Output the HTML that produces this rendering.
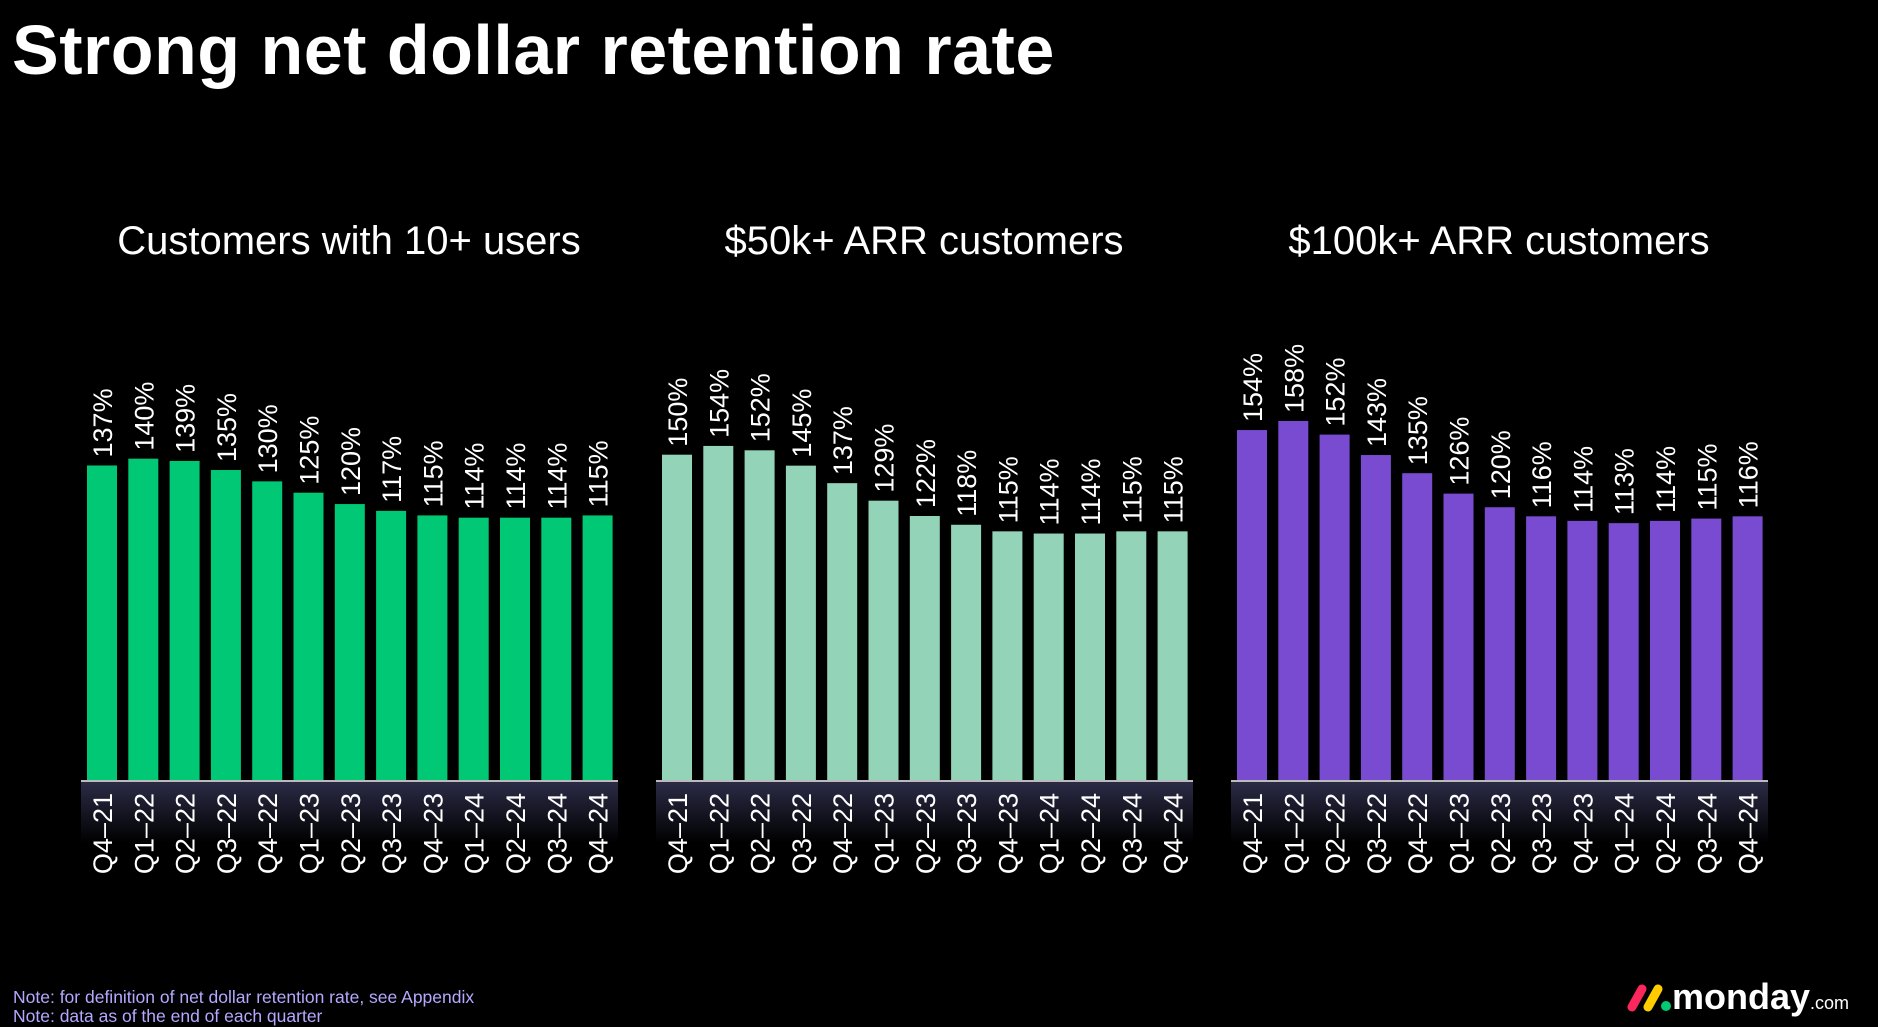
<!DOCTYPE html>
<html><head><meta charset="utf-8">
<style>
html,body{margin:0;padding:0;background:#000;}
body{width:1878px;height:1022px;overflow:hidden;position:relative;font-family:"Liberation Sans","DejaVu Sans",sans-serif;}
#title{position:absolute;left:12px;top:10px;color:#fff;font-weight:bold;font-size:70px;letter-spacing:0.5px;margin:0;}
.note{position:absolute;left:13px;color:#b4a8ff;font-size:17.5px;}
#logo{position:absolute;left:1624px;top:976px;color:#fff;font-weight:bold;font-size:36px;}
</style></head>
<body>
<h1 id="title">Strong net dollar retention rate</h1>
<svg id="chart" width="1878" height="1022" style="position:absolute;left:0;top:0">
<defs><linearGradient id="band" x1="0" y1="0" x2="0" y2="1"><stop offset="0" stop-color="#2c2c48"/><stop offset="1" stop-color="#000"/></linearGradient></defs>
</svg>
<div class="note" style="top:987px">Note: for definition of net dollar retention rate, see Appendix</div>
<div class="note" style="top:1006px">Note: data as of the end of each quarter</div>
<div id="logo"><svg width="48" height="34" style="vertical-align:-4px"><line x1="8" y1="28" x2="18" y2="10" stroke="#fb275d" stroke-width="9" stroke-linecap="round"/><line x1="24" y1="28" x2="34" y2="10" stroke="#ffcc00" stroke-width="9" stroke-linecap="round"/><circle cx="42" cy="27" r="5" fill="#00ca72"/></svg>monday<span style="font-size:18px;font-weight:normal">.com</span></div>
<script>
const categories = ["Q4-21","Q1-22","Q2-22","Q3-22","Q4-22","Q1-23","Q2-23","Q3-23","Q4-23","Q1-24","Q2-24","Q3-24","Q4-24"];
const titles = ["Customers with 10+ users","$50k+ ARR customers","$100k+ ARR customers"];
const users10 = [137,140,139,135,130,125,120,117,115,114,114,114,115];
const arr50k = [150,154,152,145,137,129,122,118,115,114,114,115,115];
const arr100k = [154,158,152,143,135,126,120,116,114,113,114,115,116];
const series = [users10, arr50k, arr100k];
const colors = ["#00c875","#93d4b9","#784bd1"];
const bandLeft = [81,656,1231];
const scaleK = [2.27,2.19,2.27];
const scaleV0 = [-2,1,-0.6];
const NS="http://www.w3.org/2000/svg";
const svg=document.getElementById('chart');
const baseY=781, pitch=41.3, bw=30;
function mk(t,a){const e=document.createElementNS(NS,t);for(const k in a)e.setAttribute(k,a[k]);return e;}
series.forEach((vals,ci)=>{
  const L=bandLeft[ci];
  const g=mk('g',{});
  
  
  svg.appendChild(g);
  const y=v=>baseY-scaleK[ci]*(v-scaleV0[ci]);
  const x=i=>L+21+i*pitch;
  const t=mk('text',{x:L+268,y:254,fill:'#fff','font-size':40,'text-anchor':'middle'});
  t.textContent=titles[ci];
  
  
  g.appendChild(t);
  const band=mk('rect',{x:L,y:baseY,width:537,height:62,fill:'url(#band)'});
  
  
  g.appendChild(band);
  vals.forEach((v,i)=>{
    const r=mk('rect',{x:x(i)-bw/2,y:y(v),width:bw,height:baseY-y(v),fill:colors[ci]});
    
    
    g.appendChild(r);
    const lb=mk('text',{transform:`translate(${x(i)+10},${y(v)-8}) rotate(-90)`,fill:'#fff','font-size':27});
    lb.textContent=v+'%';
    
    
    g.appendChild(lb);
    const cl=mk('text',{transform:`translate(${x(i)+10},${baseY+12}) rotate(-90)`,fill:'#fff','font-size':27,'text-anchor':'end'});
    cl.textContent=categories[i].replace('-','–');
    
    
    g.appendChild(cl);
  });
  const ax=mk('line',{x1:L,x2:L+537,y1:baseY,y2:baseY,stroke:'#bbb','stroke-width':2});
  
  
  g.appendChild(ax);
});
</script>
</body></html>
